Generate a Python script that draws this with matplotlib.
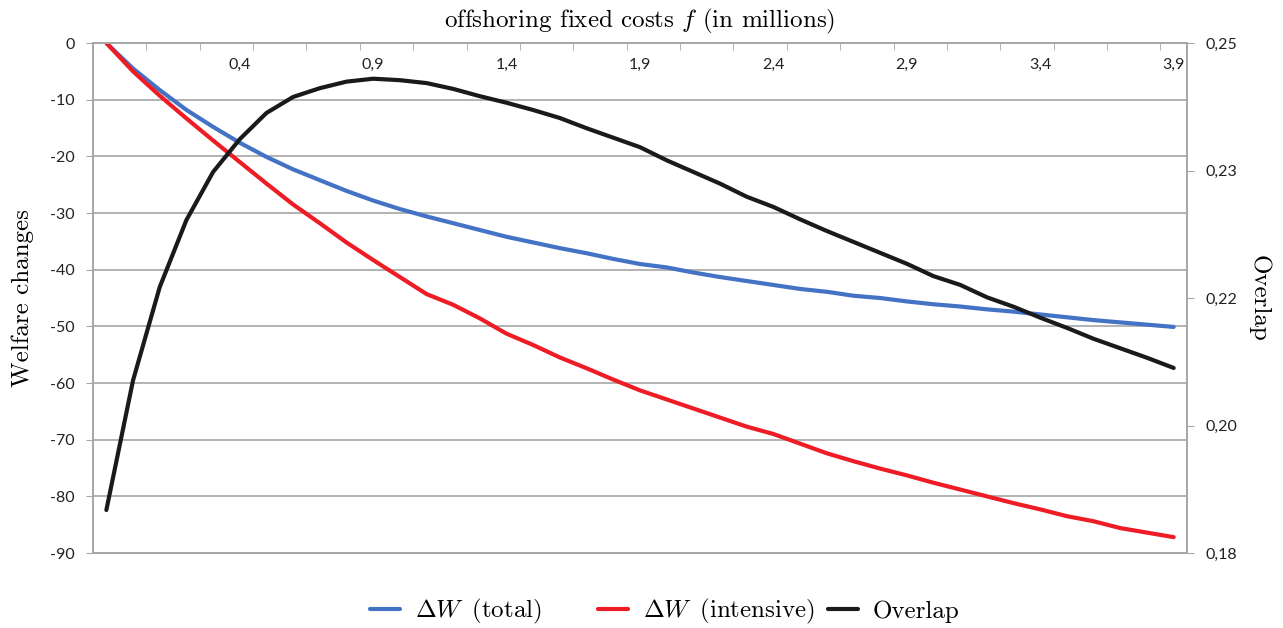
"""
Welfare changes and overlap against offshoring fixed costs.
"""
import matplotlib.pyplot as plt
import numpy as np

plt.rcParams["mathtext.fontset"] = "cm"

# category labels (first row is the no-offshoring baseline, unlabeled)
f_values = ["", "0,0", "0,1", "0,2", "0,3", "0,4", "0,5", "0,6", "0,7", "0,8",
            "0,9", "1,0", "1,1", "1,2", "1,3", "1,4", "1,5", "1,6", "1,7", "1,8",
            "1,9", "2,0", "2,1", "2,2", "2,3", "2,4", "2,5", "2,6", "2,7", "2,8",
            "2,9", "3,0", "3,1", "3,2", "3,3", "3,4", "3,5", "3,6", "3,7", "3,8",
            "3,9"]

total_w = [0.0, -4.5, -8.3, -11.8, -14.8, -17.6, -20.1, -22.3, -24.2, -26.1,
           -27.8, -29.3, -30.6, -31.8, -33.0, -34.2, -35.2, -36.2, -37.1, -38.1,
           -39.0, -39.6, -40.5, -41.3, -42.0, -42.7, -43.4, -43.9, -44.6, -45.0,
           -45.6, -46.1, -46.5, -47.0, -47.4, -47.9, -48.4, -48.9, -49.3, -49.7,
           -50.1]

intensive_w = [0.0, -5.0, -9.3, -13.3, -17.2, -21.0, -24.8, -28.5, -31.8, -35.2,
               -38.3, -41.3, -44.3, -46.2, -48.6, -51.3, -53.3, -55.5, -57.4, -59.4,
               -61.3, -62.9, -64.5, -66.1, -67.7, -69.0, -70.7, -72.4, -73.8, -75.1,
               -76.3, -77.6, -78.8, -80.0, -81.2, -82.3, -83.5, -84.4, -85.6, -86.4,
               -87.2]

overlap = [0.1859, 0.2037, 0.2165, 0.2257, 0.2323, 0.2368, 0.2404, 0.2426, 0.2438, 0.2447,
           0.2451, 0.2449, 0.2445, 0.2437, 0.2427, 0.2418, 0.2408, 0.2397, 0.2383, 0.2370,
           0.2357, 0.2339, 0.2323, 0.2307, 0.2289, 0.2275, 0.2258, 0.2242, 0.2227, 0.2212,
           0.2197, 0.2180, 0.2168, 0.2151, 0.2138, 0.2123, 0.2109, 0.2094, 0.2081, 0.2068,
           0.2054]

left_ticks = [0, -10, -20, -30, -40, -50, -60, -70, -80, -90]
right_ticks = [0.18, 0.1975, 0.215, 0.2325, 0.25]
right_labels = ["0,18", "0,20", "0,22", "0,23", "0,25"]

BLUE = "#4472c4"
RED = "#ee1c25"
BLACK = "#1a1a1a"
GREY = "#a6a6a6"
TICK_FONT = "Lato"
TICK_SIZE = 11.5
SERIF = "cmr10"
LABEL_SIZE = 18

fig = plt.figure(figsize=(12.83, 6.28), dpi=100)
ax = fig.add_axes([0.0725, 0.1194, 0.8527, 0.8121])

x = np.arange(len(f_values))
l1, = ax.plot(x, total_w, color=BLUE, lw=3, solid_capstyle="round",
              label=r"$\Delta W\,$ (total)")
l2, = ax.plot(x, intensive_w, color=RED, lw=3, solid_capstyle="round",
              label=r"$\Delta W\,$ (intensive)")

ax.set_xlim(-0.5, len(x) - 0.5)
ax.set_ylim(-90, 0)

# left axis
ax.set_yticks(left_ticks)
ax.set_yticklabels([str(v) for v in left_ticks], fontfamily=TICK_FONT, fontsize=TICK_SIZE)
ax.tick_params(axis="y", direction="out", length=5, color=GREY, pad=8, labelcolor="#222222")
ax.yaxis.grid(True, color=GREY, lw=1.2)
ax.set_axisbelow(True)

# top category axis
ax.xaxis.tick_top()
major = x[5::5]
ax.set_xticks(major)
ax.set_xticklabels([f_values[i] for i in major], fontfamily=TICK_FONT, fontsize=TICK_SIZE)
ax.set_xticks(np.arange(1.5, len(x) - 1, 2), minor=True)
ax.tick_params(axis="x", which="major", length=0, pad=-21, labelcolor="#222222")
ax.tick_params(axis="x", which="minor", direction="in", length=5, color=GREY)
ax.xaxis.set_label_position("top")
ax.set_xlabel("offshoring fixed costs $f$ (in millions)", fontfamily=SERIF,
              fontsize=LABEL_SIZE, labelpad=8)
ax.set_ylabel("Welfare changes", fontfamily=SERIF, fontsize=LABEL_SIZE, labelpad=12)

for side in ["top", "bottom", "left", "right"]:
    ax.spines[side].set_color(GREY)
    ax.spines[side].set_linewidth(1.2)

# right axis for the overlap measure
ax2 = ax.twinx()
l3, = ax2.plot(x, overlap, color=BLACK, lw=3, solid_capstyle="round", label="Overlap")
ax2.set_ylim(0.18, 0.25)
ax2.set_yticks(right_ticks)
ax2.set_yticklabels(right_labels, fontfamily=TICK_FONT, fontsize=TICK_SIZE)
ax2.tick_params(axis="y", direction="out", length=5, color=GREY, pad=8, labelcolor="#222222")
ax2.set_ylabel("Overlap", fontfamily=SERIF, fontsize=LABEL_SIZE, rotation=270,
               labelpad=24)
for side in ["top", "bottom", "left", "right"]:
    ax2.spines[side].set_color(GREY)
    ax2.spines[side].set_linewidth(1.2)

# legend entries sit in equal-width slots, like the spreadsheet legend
for line, x0 in zip([l1, l2, l3], [0.288, 0.466, 0.645]):
    fig.legend(handles=[line], loc="center left", bbox_to_anchor=(x0, 0.026),
               frameon=False, borderpad=0, borderaxespad=0, handlelength=1.2,
               handletextpad=0.6, prop={"family": SERIF, "size": LABEL_SIZE})

plt.savefig("out.png", dpi=100)
